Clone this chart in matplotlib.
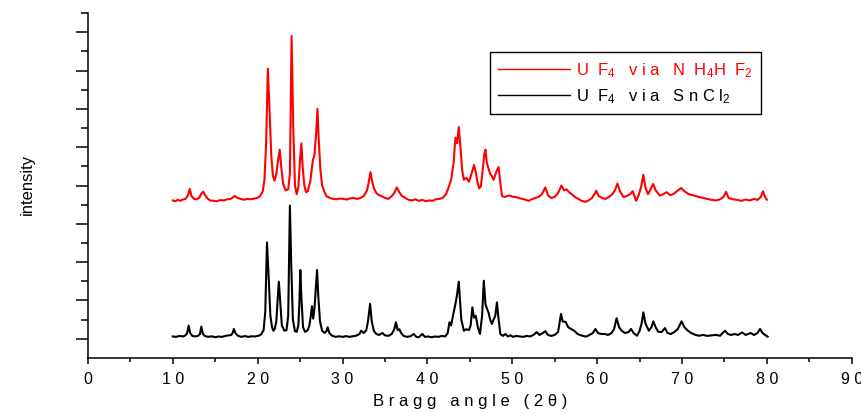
import matplotlib
matplotlib.use("Agg")
import matplotlib.pyplot as plt
from matplotlib.ticker import FixedLocator, FixedFormatter, NullFormatter

plt.rcParams['font.family'] = ['Liberation Sans', 'DejaVu Sans']
plt.rcParams['mathtext.fontset'] = 'custom'
plt.rcParams['mathtext.rm'] = 'Liberation Sans'
plt.rcParams['mathtext.it'] = 'Liberation Sans'

# UF4 via NH4HF2 (offset trace), 2-theta in degrees and intensity in a.u.
red_x = [10.0, 10.3, 10.6, 10.9, 11.2, 11.5, 11.8, 12.0, 12.2, 12.5, 12.8, 13.1, 13.4, 13.6, 13.8,
         14.1, 14.4, 14.8, 15.2, 15.6, 16.0, 16.4, 16.8, 17.1, 17.3, 17.6, 18.0, 18.4, 18.8, 19.2,
         19.6, 20.0, 20.3, 20.6, 20.8, 21.0, 21.2, 21.4, 21.6, 21.8, 22.0, 22.2, 22.4, 22.6, 22.8,
         23.0, 23.3, 23.6, 23.8, 24.0, 24.2, 24.4, 24.6, 24.8, 25.0, 25.15, 25.3, 25.5, 25.7, 25.9,
         26.2, 26.5, 26.7, 26.9, 27.05, 27.2, 27.4, 27.6, 27.85, 28.1, 28.5, 28.9, 29.3, 29.7, 30.1,
         30.5, 30.9, 31.3, 31.7, 32.1, 32.5, 32.9, 33.1, 33.3, 33.5, 33.7, 34.0, 34.3, 34.6, 35.0,
         35.4, 35.8, 36.1, 36.4, 36.7, 37.0, 37.4, 37.8, 38.2, 38.6, 39.0, 39.4, 39.8, 40.2, 40.6,
         41.0, 41.4, 41.8, 42.2, 42.5, 42.8, 43.1, 43.3, 43.5, 43.7, 43.9, 44.1, 44.3, 44.6, 44.9,
         45.2, 45.5, 45.7, 45.9, 46.1, 46.3, 46.5, 46.7, 46.85, 47.0, 47.2, 47.4, 47.6, 47.8, 48.0,
         48.2, 48.4, 48.6, 48.8, 49.1, 49.4, 49.7, 50.0, 50.4, 50.8, 51.2, 51.6, 51.9, 52.3, 52.7,
         53.1, 53.5, 53.9, 54.2, 54.6, 55.0, 55.4, 55.8, 56.1, 56.4, 56.7, 57.0, 57.4, 57.8, 58.2,
         58.6, 59.0, 59.4, 59.7, 59.9, 60.2, 60.6, 61.0, 61.4, 61.8, 62.1, 62.4, 62.7, 63.1, 63.5,
         63.9, 64.2, 64.6, 64.9, 65.2, 65.45, 65.7, 66.0, 66.3, 66.6, 66.9, 67.4, 67.8, 68.2, 68.6,
         69.0, 69.4, 69.9, 70.3, 70.8, 71.5, 72.0, 72.5, 73.0, 73.5, 74.0, 74.5, 74.9, 75.2, 75.5,
         76.0, 76.5, 77.0, 77.5, 78.0, 78.5, 78.9, 79.3, 79.55, 79.8, 80.0]
red_y = [8.22, 8.18, 8.25, 8.20, 8.27, 8.30, 8.50, 8.82, 8.45, 8.30, 8.28, 8.35, 8.60, 8.68, 8.50,
         8.32, 8.22, 8.20, 8.18, 8.24, 8.22, 8.28, 8.30, 8.38, 8.46, 8.35, 8.30, 8.26, 8.30, 8.28,
         8.32, 8.36, 8.45, 8.70, 9.30, 11.2, 15.1, 13.0, 10.6, 9.50, 9.25, 9.60, 10.3, 10.87, 9.90,
         9.10, 8.75, 8.80, 9.60, 16.8, 12.0, 9.00, 8.55, 8.90, 10.4, 11.2, 10.0, 9.00, 8.65, 8.70,
         9.20, 10.3, 10.6, 11.8, 13.0, 11.4, 9.80, 9.00, 8.70, 8.45, 8.35, 8.30, 8.28, 8.32, 8.30,
         8.27, 8.33, 8.35, 8.30, 8.35, 8.45, 8.75, 9.20, 9.70, 9.20, 8.85, 8.60, 8.50, 8.45, 8.35,
         8.30, 8.45, 8.60, 8.90, 8.65, 8.45, 8.35, 8.25, 8.22, 8.28, 8.20, 8.25, 8.18, 8.22, 8.20,
         8.28, 8.30, 8.35, 8.55, 8.90, 9.30, 10.2, 11.5, 11.2, 12.05, 11.0, 9.80, 9.30, 9.40, 9.20,
         9.60, 10.07, 9.70, 9.20, 8.85, 8.95, 9.70, 10.6, 10.87, 10.2, 9.90, 9.60, 9.50, 9.30, 9.55,
         9.80, 9.96, 9.10, 8.45, 8.40, 8.45, 8.48, 8.42, 8.40, 8.35, 8.30, 8.25, 8.20, 8.28, 8.35,
         8.40, 8.55, 8.90, 8.50, 8.35, 8.40, 8.60, 9.00, 8.75, 8.80, 8.65, 8.55, 8.40, 8.30, 8.20,
         8.15, 8.22, 8.35, 8.55, 8.73, 8.45, 8.35, 8.30, 8.40, 8.55, 8.75, 9.10, 8.70, 8.40, 8.45,
         8.55, 8.70, 8.20, 8.50, 8.95, 9.56, 8.90, 8.55, 8.80, 9.08, 8.75, 8.47, 8.55, 8.65, 8.50,
         8.55, 8.70, 8.87, 8.70, 8.55, 8.47, 8.40, 8.35, 8.30, 8.25, 8.22, 8.28, 8.40, 8.67, 8.35,
         8.28, 8.25, 8.20, 8.27, 8.22, 8.30, 8.25, 8.40, 8.70, 8.40, 8.26]

# UF4 via SnCl2
black_x = [10.0, 10.4, 10.8, 11.2, 11.5, 11.7, 11.87, 12.05, 12.3, 12.7, 13.0, 13.2, 13.36, 13.55,
           13.8, 14.2, 14.6, 15.0, 15.4, 15.8, 16.2, 16.6, 16.9, 17.05, 17.2, 17.4, 17.7, 18.1,
           18.5, 18.9, 19.3, 19.7, 20.1, 20.4, 20.7, 20.9, 21.1, 21.3, 21.5, 21.7, 21.85, 22.0,
           22.2, 22.35, 22.5, 22.65, 22.85, 23.15, 23.4, 23.6, 23.8, 23.95, 24.15, 24.4, 24.6,
           24.8, 24.93, 25.03, 25.15, 25.35, 25.6, 25.9, 26.1, 26.3, 26.4, 26.55, 26.7, 26.85,
           27.0, 27.15, 27.35, 27.6, 27.9, 28.1, 28.25, 28.45, 28.8, 29.2, 29.6, 30.0, 30.4, 30.8,
           31.2, 31.6, 32.0, 32.2, 32.5, 32.8, 33.0, 33.25, 33.45, 33.7, 34.0, 34.3, 34.7, 35.0,
           35.4, 35.8, 36.1, 36.3, 36.5, 36.7, 36.9, 37.2, 37.6, 38.0, 38.4, 38.7, 39.0, 39.4,
           39.7, 40.1, 40.5, 40.9, 41.3, 41.7, 42.1, 42.4, 42.6, 42.8, 43.1, 43.3, 43.5, 43.7,
           43.85, 44.0, 44.3, 44.6, 44.9, 45.1, 45.3, 45.5, 45.7, 45.95, 46.2, 46.45, 46.65,
           46.85, 47.0, 47.2, 47.4, 47.6, 47.8, 48.0, 48.2, 48.35, 48.6, 48.9, 49.2, 49.5, 49.8,
           50.1, 50.5, 50.9, 51.3, 51.7, 52.1, 52.5, 52.9, 53.2, 53.6, 53.9, 54.2, 54.6, 55.0,
           55.4, 55.75, 55.95, 56.3, 56.6, 57.0, 57.3, 57.7, 58.1, 58.7, 59.1, 59.5, 59.8, 60.1,
           60.5, 60.9, 61.3, 61.7, 62.0, 62.3, 62.6, 62.9, 63.3, 63.7, 64.0, 64.3, 64.7, 65.0,
           65.25, 65.45, 65.7, 66.1, 66.4, 66.63, 66.9, 67.2, 67.6, 68.0, 68.3, 68.7, 69.1, 69.5,
           69.95, 70.3, 70.7, 71.1, 71.6, 72.0, 72.5, 73.0, 73.5, 74.0, 74.5, 74.8, 75.1, 75.4,
           75.8, 76.2, 76.6, 77.1, 77.5, 78.1, 78.5, 78.9, 79.2, 79.5, 79.8, 80.1]
black_y = [1.12, 1.10, 1.15, 1.12, 1.18, 1.30, 1.69, 1.30, 1.15, 1.12, 1.16, 1.25, 1.63, 1.25,
           1.14, 1.10, 1.13, 1.08, 1.12, 1.10, 1.15, 1.18, 1.20, 1.30, 1.51, 1.28, 1.15, 1.10,
           1.14, 1.10, 1.13, 1.12, 1.16, 1.22, 1.45, 2.40, 6.03, 4.20, 2.20, 1.60, 1.42, 1.50,
           1.90, 3.00, 3.98, 3.00, 1.70, 1.42, 1.45, 2.20, 7.95, 5.00, 2.00, 1.40, 1.36,
           1.70, 3.00, 4.59, 3.20, 1.60, 1.36, 1.45, 1.70, 2.30, 2.70, 2.05, 2.60, 3.60,
           4.59, 3.20, 1.90, 1.42, 1.30, 1.40, 1.60, 1.30, 1.15, 1.10, 1.13, 1.10, 1.14, 1.10,
           1.13, 1.16, 1.25, 1.42, 1.30, 1.45, 1.90, 2.82, 1.90, 1.40, 1.25, 1.20, 1.30, 1.18,
           1.15, 1.25, 1.50, 1.86, 1.45, 1.50, 1.30, 1.15, 1.10, 1.13, 1.25, 1.10, 1.08, 1.25,
           1.10, 1.12, 1.08, 1.12, 1.10, 1.15, 1.12, 1.30, 1.86, 1.70, 2.38, 2.80, 3.30, 3.98,
           3.00, 2.00, 1.42, 1.50, 1.45, 1.69, 2.64, 2.10, 2.20, 1.60, 1.25, 2.20, 4.03,
           2.80, 2.60, 2.38, 2.00, 1.77, 2.00, 2.20, 2.90, 2.20, 1.25, 1.15, 1.25, 1.12, 1.18,
           1.10, 1.15, 1.12, 1.10, 1.15, 1.12, 1.20, 1.35, 1.20, 1.30, 1.40, 1.20, 1.15, 1.20,
           1.35, 2.30, 1.90, 1.88, 1.60, 1.50, 1.42, 1.25, 1.18, 1.11, 1.20, 1.30, 1.51, 1.30,
           1.25, 1.25, 1.20, 1.30, 1.50, 2.07, 1.60, 1.42, 1.30, 1.35, 1.51, 1.30, 1.16, 1.40,
           1.80, 2.38, 1.80, 1.42, 1.60, 1.91, 1.60, 1.37, 1.35, 1.56, 1.30, 1.25, 1.35, 1.50,
           1.91, 1.60, 1.42, 1.30, 1.20, 1.16, 1.20, 1.15, 1.18, 1.20, 1.16, 1.30, 1.42, 1.25,
           1.20, 1.25, 1.20, 1.33, 1.20, 1.30, 1.20, 1.30, 1.51, 1.30, 1.20, 1.11]

x_ticks = [0, 10, 20, 30, 40, 50, 60, 70, 80, 90]
x_tick_labels = ["0", "1 0", "2 0", "3 0", "4 0", "5 0", "6 0", "7 0", "8 0", "9 0"]
red_label = r"U  F$_4$   v i a   N  H$_4$H  F$_2$"
black_label = r"U  F$_4$   v i a   S n C l$_2$"

fig = plt.figure(figsize=(8.62, 4.14), dpi=100)
ax = fig.add_axes([0.102, 0.133, 0.886, 0.833])

ax.plot(red_x, red_y, color="#ff0000", lw=1.5, label=red_label)
ax.plot(black_x, black_y, color="black", lw=1.5, label=black_label)

ax.set_xlim(0, 90)
ax.set_ylim(0, 18)

ax.spines["top"].set_visible(False)
ax.spines["right"].set_visible(False)
ax.spines["left"].set_linewidth(1.1)
ax.spines["bottom"].set_linewidth(1.1)

ax.xaxis.set_major_locator(FixedLocator(x_ticks))
ax.xaxis.set_major_formatter(FixedFormatter(x_tick_labels))
ax.xaxis.set_minor_locator(FixedLocator([5, 15, 25, 35, 45, 55, 65, 75, 85]))
ax.tick_params(axis="x", which="major", length=4.5, width=1.1, labelsize=11.5, pad=5)
ax.tick_params(axis="x", which="minor", length=3, width=1.1)

ax.yaxis.set_major_locator(FixedLocator([1, 3, 5, 7, 9, 11, 13, 15, 17]))
ax.yaxis.set_minor_locator(FixedLocator([2, 4, 6, 8, 10, 12, 14, 16, 18]))
ax.yaxis.set_major_formatter(NullFormatter())
ax.tick_params(axis="y", which="major", length=8.5, width=1.1)
ax.tick_params(axis="y", which="minor", length=4.8, width=1.1)

ax.set_xlabel("B r a g g   a n g l e   ( 2 θ )", fontsize=12, labelpad=5)
ax.set_ylabel("intensity", fontsize=12)
ax.yaxis.set_label_coords(-0.069, 0.505)

leg = ax.legend(loc="upper left", bbox_to_anchor=(0.526, 0.887), borderaxespad=0,
                fontsize=12, handlelength=4.3, handletextpad=0.4, frameon=True,
                fancybox=False, edgecolor="black", framealpha=1,
                labelcolor=["#ff0000", "black"], borderpad=0.5, labelspacing=0.45)
leg.get_frame().set_linewidth(1.0)
for line in leg.get_lines():
    line.set_linewidth(1.0)

fig.savefig("out.png", dpi=100)
